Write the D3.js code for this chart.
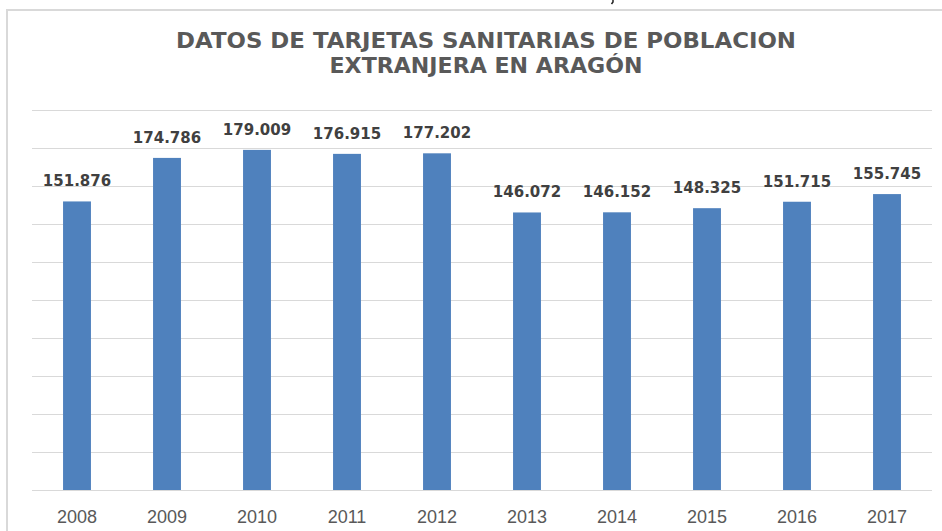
<!DOCTYPE html>
<html lang="es">
<head>
<meta charset="UTF-8">
<title>Tarjetas sanitarias población extranjera Aragón</title>
<script src="https://d3js.org/d3.v7.min.js"></script>
<style>
    body { margin: 0; background: #fff; }
    svg { display: block; }
</style>
</head>
<body>
<div id="chart"></div>
<script>
    // datos
    var years = ["2008", "2009", "2010", "2011", "2012", "2013", "2014", "2015", "2016", "2017"];
    var values = [151876, 174786, 179009, 176915, 177202, 146072, 146152, 148325, 151715, 155745];
    var gridTicks = [0, 20000, 40000, 60000, 80000, 100000, 120000, 140000, 160000, 180000, 200000];
    var titleLines = ["DATOS DE TARJETAS SANITARIAS DE POBLACION", "EXTRANJERA EN ARAGÓN"];

    var width = 942;
    var height = 531;

    var svg = d3.select("#chart")
        .append("svg")
        .attr("width", width)
        .attr("height", height);

    // marco del gráfico (solo se ven arriba e izquierda)
    svg.append("rect")
        .attr("x", 7)
        .attr("y", 10)
        .attr("width", 960)
        .attr("height", 560)
        .attr("fill", "none")
        .attr("stroke", "#d9d9d9")
        .attr("stroke-width", 2);

    // pequeña marca cortada arriba (resto de la captura)
    svg.append("path")
        .attr("d", "M613,0 L613,2 L611.5,4")
        .attr("fill", "none")
        .attr("stroke", "#222")
        .attr("stroke-width", 1.5);

    var x = d3.scaleBand()
        .domain(years)
        .range([32, 932])
        .paddingInner(0.69)
        .paddingOuter(0.345);

    var y = d3.scaleLinear()
        .domain([0, 200000])
        .range([490, 110]);

    // lineas de cuadricula
    svg.append("g")
        .selectAll("line")
        .data(gridTicks)
        .join("line")
        .attr("x1", 32)
        .attr("x2", 932)
        .attr("y1", function (d) { return Math.round(y(d)) + 0.5; })
        .attr("y2", function (d) { return Math.round(y(d)) + 0.5; })
        .attr("stroke", "#d9d9d9")
        .attr("stroke-width", 1.2);

    var data = years.map(function (d, i) { return { year: d, value: values[i] }; });

    svg.append("g")
        .selectAll("rect")
        .data(data)
        .join("rect")
        .attr("x", function (d) { return x(d.year); })
        .attr("y", function (d) { return y(d.value); })
        .attr("width", x.bandwidth())
        .attr("height", function (d) { return y(0) - y(d.value); })
        .attr("fill", "#4f81bd");

    var es = d3.formatLocale({ decimal: ",", thousands: ".", grouping: [3], currency: ["", "€"] });
    var fmt = es.format(",d");

    // etiquetas de valor
    svg.append("g")
        .selectAll("text")
        .data(data)
        .join("text")
        .attr("x", function (d) { return x(d.year) + x.bandwidth() / 2; })
        .attr("y", function (d) { return y(d.value) - 15; })
        .attr("text-anchor", "middle")
        .attr("font-family", "DejaVu Sans, Verdana, sans-serif")
        .attr("font-size", 15)
        .attr("font-weight", "bold")
        .attr("fill", "#404040")
        .text(function (d) { return fmt(d.value); });

    // eje x (sin linea)
    var xAxis = svg.append("g")
        .attr("transform", "translate(0,490)")
        .call(d3.axisBottom(x).tickSize(0).tickPadding(20));
    xAxis.select(".domain").remove();
    xAxis.selectAll("text")
        .attr("font-family", "Liberation Sans, Arial, sans-serif")
        .attr("font-size", 18)
        .attr("fill", "#595959");

    // titulo
    svg.append("g")
        .selectAll("text")
        .data(titleLines)
        .join("text")
        .attr("x", 486)
        .attr("y", function (d, i) { return 48 + i * 25; })
        .attr("text-anchor", "middle")
        .attr("font-family", "DejaVu Sans, Verdana, sans-serif")
        .attr("font-size", 22)
        .attr("font-weight", "bold")
        .attr("fill", "#595959")
        .attr("textLength", function (d, i) { return i === 0 ? 620 : 313; })
        .attr("lengthAdjust", "spacingAndGlyphs")
        .text(function (d) { return d; });
</script>
</body>
</html>
